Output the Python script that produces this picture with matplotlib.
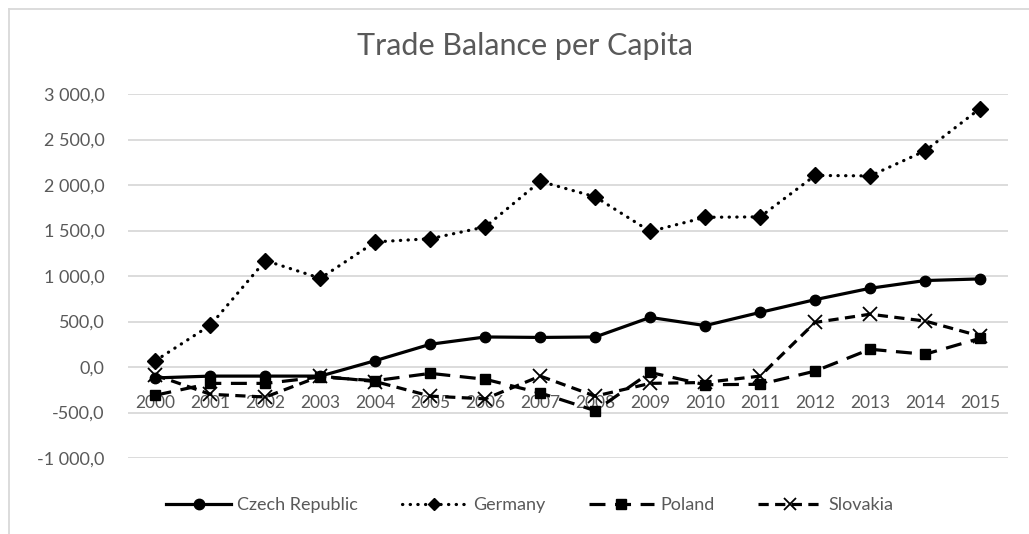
import matplotlib
matplotlib.use("Agg")
import matplotlib.pyplot as plt
from matplotlib.lines import Line2D

plt.rcParams["font.family"] = ["Lato", "DejaVu Sans"]

years = list(range(2000, 2016))
czech = [-120, -100, -100, -100, 70, 250, 330, 325, 330, 545, 455, 600, 740, 865, 950, 968]
germany = [70, 460, 1170, 975, 1375, 1410, 1540, 2040, 1870, 1490, 1645, 1650, 2105, 2100, 2375, 2840]
poland = [-310, -180, -180, -110, -150, -70, -135, -285, -480, -60, -195, -190, -45, 195, 140, 315]
slovakia = [-90, -300, -330, -100, -160, -320, -350, -100, -320, -180, -170, -100, 490, 580, 505, 340]
y_ticks = [-1000, -500, 0, 500, 1000, 1500, 2000, 2500, 3000]

grey = "#595959"
W, H = 1029, 534
fig = plt.figure(figsize=(W / 100, H / 100), dpi=100)
ax = fig.add_axes([128 / W, 1 - 458 / H, (1007.5 - 128) / W, (458 - 94) / H])

x = list(range(len(years)))
lw = 2.3
ax.plot(x, czech, color="black", lw=lw, marker="o", ms=7.5, label="Czech Republic", zorder=5)
ax.plot(x, germany, color="black", lw=lw, linestyle=(0, (0.1, 2.3)), dash_capstyle="round",
        marker="D", ms=8.5, label="Germany", zorder=4)
ax.plot(x, poland, color="black", lw=lw, linestyle=(0, (5, 3)), marker="s", ms=7.5,
        label="Poland", zorder=3)
ax.plot(x, slovakia, color="black", lw=lw, linestyle=(0, (3.2, 2)), marker="x", ms=10,
        mew=1.3, label="Slovakia", zorder=3)

ax.set_xlim(-0.5, len(years) - 0.5)
ax.set_ylim(-1000, 3000)
ax.set_yticks(y_ticks)
ax.set_yticklabels([f"{v:,.1f}".replace(",", " ").replace(".", ",") for v in y_ticks])
ax.set_xticks(x)
ax.set_xticklabels([str(y) for y in years])
ax.grid(axis="y", color="#d9d9d9", lw=1.3, zorder=0)
for name in ["left", "right", "top"]:
    ax.spines[name].set_visible(False)
ax.spines["bottom"].set_position(("data", 0))
ax.spines["bottom"].set_color("none")
ax.tick_params(axis="y", length=0, pad=17, labelsize=13, labelcolor=grey)
ax.tick_params(axis="x", length=0, pad=20, labelsize=12.5, labelcolor=grey)

fig.text(525 / W, 1 - 46 / H, "Trade Balance per Capita", ha="center", va="center",
         fontsize=22, color=grey)

handles = [
    Line2D([], [], color="black", lw=lw, marker="o", ms=7.5),
    Line2D([], [], color="black", lw=lw, linestyle=(0, (0.1, 2.3)), dash_capstyle="round",
           marker="D", ms=6.5),
    Line2D([], [], color="black", lw=lw, linestyle=(0, (5, 3)), marker="s", ms=7.5),
    Line2D([], [], color="black", lw=lw, linestyle=(0, (3.2, 2)), marker="x", ms=9, mew=1.3),
]
fig.legend(handles, ["Czech Republic", "Germany", "Poland", "Slovakia"], loc="center",
           bbox_to_anchor=(530 / W, 1 - 505 / H), ncol=4, frameon=False, fontsize=13,
           handlelength=3.6, columnspacing=2.4, handletextpad=0.35, labelcolor=grey)

# light chart-area border along the top and left
fig.add_artist(Line2D([9 / W, 9 / W], [0, 1 - 9 / H], color="#d9d9d9", lw=1.3))
fig.add_artist(Line2D([9 / W, 1], [1 - 9 / H, 1 - 9 / H], color="#d9d9d9", lw=1.3))

fig.savefig("out.png", dpi=100, facecolor="white")
